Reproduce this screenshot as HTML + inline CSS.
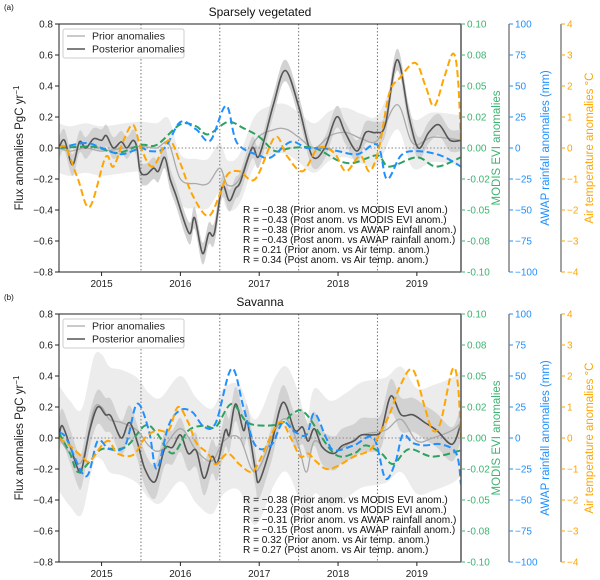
<!DOCTYPE html>
<html><head><meta charset="utf-8"><style>
body{margin:0;background:#fff;}
svg{display:block;font-family:"Liberation Sans","DejaVu Sans",sans-serif;}
</style></head><body>
<svg id="chart" width="600" height="580" viewBox="0 0 600 580" xmlns="http://www.w3.org/2000/svg"></svg>
<script>
// ---------- Panel (a) Sparsely vegetated ----------
const aPostT=[2014.46,2014.53,2014.63,2014.72,2014.8,2014.9,2015.0,2015.06,2015.15,2015.25,2015.32,2015.4,2015.45,2015.49,2015.57,2015.66,2015.72,2015.8,2015.87,2015.94,2016.11,2016.18,2016.28,2016.36,2016.43,2016.53,2016.62,2016.7,2016.76,2016.91,2017.0,2017.18,2017.33,2017.5,2017.67,2017.83,2017.98,2018.09,2018.24,2018.35,2018.48,2018.6,2018.75,2018.9,2019.02,2019.15,2019.28,2019.42,2019.56];
const aPostV=[0,0.05,-0.11,0.04,0.0,0.06,0.05,0.08,0.0,0.04,0.0,0.05,0,-0.15,-0.17,-0.13,-0.15,-0.06,-0.2,-0.3,-0.55,-0.45,-0.68,-0.55,-0.55,-0.25,-0.34,-0.26,-0.22,0.0,-0.05,0.28,0.5,0.27,-0.05,0.0,0.2,0.1,-0.02,0.1,0.1,0.15,0.57,0.2,0.0,0.1,0.15,0.05,0.05];
const aPriorT=[2014.46,2014.6,2014.8,2015.0,2015.3,2015.5,2015.7,2015.85,2016.0,2016.2,2016.35,2016.5,2016.6,2016.75,2016.95,2017.2,2017.35,2017.5,2017.7,2017.9,2018.1,2018.3,2018.5,2018.75,2018.95,2019.2,2019.56];
const aPriorV=[0,-0.02,0.0,-0.02,0.0,0.01,0.0,0.03,-0.2,-0.23,-0.23,-0.13,-0.24,-0.2,0.05,0.12,0.12,0.07,0.0,0.08,0.1,0.06,0.05,0.28,0.03,0.07,0.05];
const aPostUnc=0.07, aPriorUnc=0.16;
const aEviT=[2014.46,2014.9,2015.2,2015.5,2015.7,2016.0,2016.2,2016.35,2016.6,2016.8,2017.0,2017.2,2017.4,2017.7,2018.0,2018.2,2018.5,2018.65,2019.0,2019.25,2019.56];
const aEviV=[0,0.001,-0.004,0.0025,0.0025,0.019,0.0175,0.011,0.021,0.016,0.009,-0.0025,0.0,0.0,-0.01,-0.012,-0.006,-0.015,-0.0075,-0.015,-0.0075];
const aRainT=[2014.46,2014.8,2015.0,2015.25,2015.5,2015.6,2015.8,2016.0,2016.2,2016.38,2016.58,2016.72,2017.0,2017.15,2017.4,2017.6,2017.8,2018.0,2018.25,2018.5,2018.62,2018.8,2019.0,2019.3,2019.56];
const aRainV=[0,4,0,-5,0,-2.5,0,21,15,6,34,4,-6,-7.5,5,0,0,-2.5,-5,2.5,-25,-6,-2.5,-6,-15];
const aTempT=[2014.46,2014.55,2014.7,2014.85,2015.05,2015.15,2015.28,2015.4,2015.5,2015.65,2015.85,2016.0,2016.15,2016.35,2016.5,2016.6,2016.75,2016.95,2017.2,2017.35,2017.55,2017.75,2017.95,2018.1,2018.28,2018.4,2018.52,2018.65,2018.78,2018.98,2019.11,2019.22,2019.35,2019.46,2019.52,2019.56];
const aTempV=[0,0,-1,-1.9,-0.3,-0.6,0.25,0.75,0,-0.6,0.25,-0.5,-1.5,-2.2,-1.5,-0.85,-0.75,-1.0,0.35,-0.25,-0.75,0,-0.15,-0.75,-0.25,-0.75,0,1.77,2.25,2.75,2.0,1.35,2.3,3.05,2.3,0.15];
const aStats=["R = \u22120.38 (Prior anom. vs MODIS EVI anom.)","R = \u22120.43 (Post anom. vs MODIS EVI anom.)","R = \u22120.38 (Prior anom. vs AWAP rainfall anom.)","R = \u22120.43 (Post anom. vs AWAP rainfall anom.)","R = 0.21 (Prior anom. vs Air temp. anom.)","R = 0.34 (Post anom. vs Air temp.  anom.)"];

// ---------- Panel (b) Savanna ----------
const bPostT=[2014.46,2014.5,2014.6,2014.7,2014.75,2014.85,2014.95,2015.05,2015.12,2015.25,2015.35,2015.45,2015.55,2015.68,2015.8,2015.9,2016.0,2016.1,2016.2,2016.3,2016.4,2016.47,2016.57,2016.62,2016.7,2016.8,2016.85,2016.95,2017.0,2017.15,2017.3,2017.45,2017.55,2017.62,2017.7,2017.8,2017.95,2018.05,2018.2,2018.3,2018.45,2018.55,2018.67,2018.8,2018.95,2019.1,2019.25,2019.45,2019.56];
const bPostV=[0,0.08,-0.05,-0.2,-0.2,0.05,0.2,0.15,0.14,0.0,0.1,-0.02,-0.2,-0.28,-0.07,-0.06,0.02,-0.1,-0.08,-0.26,-0.12,-0.16,0.05,0.02,0.22,0.05,0.1,-0.2,-0.28,-0.05,0.23,0.05,0.07,-0.02,0.06,-0.06,-0.1,-0.05,-0.02,0.02,0.02,0.05,0.27,0.15,0.15,0.1,0.05,-0.04,0.1];
const bPriorT=[2014.46,2014.6,2014.75,2014.9,2015.0,2015.1,2015.25,2015.45,2015.6,2015.75,2016.0,2016.2,2016.4,2016.55,2016.75,2016.95,2017.2,2017.35,2017.5,2017.6,2017.7,2017.9,2018.1,2018.3,2018.6,2018.8,2019.0,2019.2,2019.45,2019.56];
const bPriorV=[0,-0.1,-0.15,0.18,0.2,0.12,0.1,0.05,-0.05,-0.08,0.06,-0.08,-0.15,-0.02,0.0,-0.22,0.05,0.12,-0.05,-0.22,-0.02,-0.1,-0.05,0.02,0.05,0.12,-0.02,0.0,0.05,0.1];
const bPostUnc=0.11, bPriorUnc=0.34;
const bEviT=[2014.46,2014.6,2014.7,2014.85,2015.0,2015.3,2015.55,2015.7,2015.9,2016.1,2016.3,2016.45,2016.65,2016.85,2017.1,2017.3,2017.45,2017.6,2017.95,2018.2,2018.35,2018.55,2018.7,2018.9,2019.2,2019.56];
const bEviV=[0.004,-0.0125,-0.0275,-0.019,-0.009,-0.0075,0.01,0.004,-0.0125,0.006,0.01,0.009,0.0275,0.0125,0.01,0.0125,0.021,0.019,-0.0125,-0.0125,-0.006,-0.0125,-0.021,-0.009,-0.015,-0.01];
const bRainT=[2014.46,2014.55,2014.8,2014.95,2015.1,2015.3,2015.45,2015.6,2015.7,2015.85,2016.0,2016.15,2016.3,2016.45,2016.65,2016.8,2016.95,2017.15,2017.3,2017.45,2017.6,2017.7,2017.85,2017.95,2018.2,2018.45,2018.6,2018.73,2018.82,2018.95,2019.1,2019.3,2019.5,2019.56];
const bRainV=[4,0,-31,-2.5,-9,-6,27.5,6,-25,10,22.5,21,9,12.5,56,25,-6,-6,12.5,5,2.5,20,0,-10,-6,0,-32.5,-19,2.5,-4,-6,-5,-12.5,-37.5];
const bTempT=[2014.46,2014.6,2014.75,2014.85,2015.0,2015.1,2015.2,2015.4,2015.55,2015.7,2015.85,2015.97,2016.1,2016.2,2016.35,2016.45,2016.6,2016.75,2016.9,2017.0,2017.25,2017.4,2017.52,2017.62,2017.72,2017.85,2018.0,2018.2,2018.4,2018.5,2018.65,2018.8,2018.95,2019.1,2019.2,2019.3,2019.45,2019.52,2019.56];
const bTempV=[0,-0.25,-0.6,-0.75,-0.25,-0.1,-0.5,-0.55,0,0.25,0.25,1.0,0.5,-0.15,-0.5,-0.85,-0.5,-0.85,-1.1,-0.75,0.5,0,-0.6,-0.5,-0.75,-1.0,-0.9,-0.6,-0.4,0,0.75,1.75,2.2,1.0,0.25,0.5,2.2,1.75,0];
const bStats=["R = \u22120.38 (Prior anom. vs MODIS EVI anom.)","R = \u22120.23 (Post anom. vs MODIS EVI anom.)","R = \u22120.31 (Prior anom. vs AWAP rainfall anom.)","R = \u22120.15 (Post anom. vs AWAP rainfall anom.)","R = 0.32 (Prior anom. vs Air temp. anom.)","R = 0.27 (Post anom. vs Air temp.  anom.)"];

const fluxTicks=[0.8,0.6,0.4,0.2,0.0,-0.2,-0.4,-0.6,-0.8];
const fluxTickLabels=["0.8","0.6","0.4","0.2","0.0","\u22120.2","\u22120.4","\u22120.6","\u22120.8"];
const eviTickLabels=["0.10","0.08","0.05","0.02","0.00","-0.02","-0.05","-0.08","-0.10"];
const rainTickLabels=["100","75","50","25","0","\u221225","\u221250","\u221275","\u2212100"];
const tempTickLabels=["4","3","2","1","0","\u22121","\u22122","\u22123","\u22124"];
const years=[2015,2016,2017,2018,2019];
const dividers=[2015.5,2016.5,2017.5,2018.5];

const NS="http://www.w3.org/2000/svg";
const svg=document.getElementById('chart');
const X0=59,X1=461,TMIN=2014.46,TMAX=2019.56;
const xs=t=>X0+(t-TMIN)/(TMAX-TMIN)*(X1-X0);
function mk(tag,attrs,parent){const e=document.createElementNS(NS,tag);for(const k in attrs)e.setAttribute(k,attrs[k]);(parent||svg).appendChild(e);return e;}
function smooth(pts){let d="M"+pts[0][0].toFixed(1)+","+pts[0][1].toFixed(1);
 for(let i=0;i<pts.length-1;i++){const p0=pts[Math.max(0,i-1)],p1=pts[i],p2=pts[i+1],p3=pts[Math.min(pts.length-1,i+2)];
  const c1=[p1[0]+(p2[0]-p0[0])/6,p1[1]+(p2[1]-p0[1])/6],c2=[p2[0]-(p3[0]-p1[0])/6,p2[1]-(p3[1]-p1[1])/6];
  d+="C"+c1[0].toFixed(1)+","+c1[1].toFixed(1)+" "+c2[0].toFixed(1)+","+c2[1].toFixed(1)+" "+p2[0].toFixed(1)+","+p2[1].toFixed(1);}
 return d;}
function bandPath(T,V,w,ys){const up=T.map((t,i)=>[xs(t),ys(V[i]+w)]);const lo=T.map((t,i)=>[xs(t),ys(V[i]-w)]).reverse();
 return smooth(up)+"L"+lo[0][0].toFixed(1)+","+lo[0][1].toFixed(1)+smooth(lo).slice(1).replace(/^[^C]*/,"")+"Z";}

function panel(top,id,label,title,D){
 const bot=top+248;
 const ys=v=>top+(0.8-v)/1.6*(bot-top);
 const yE=v=>top+(0.1-v)/0.2*(bot-top);
 const yR=v=>top+(100-v)/200*(bot-top);
 const yT=v=>top+(4-v)/8*(bot-top);
 const g=mk('g',{});
 
 
 const cp=mk('clipPath',{id:'clip'+id},g);mk('rect',{x:X0,y:top,width:X1-X0,height:bot-top},cp);
 const pl=mk('g',{'clip-path':'url(#clip'+id+')'},g);
 let e;
 e=mk('path',{d:bandPath(D.priorT,D.priorV,D.priorUnc,ys),fill:'#ececec',stroke:'none'},pl);
 
 e=mk('path',{d:bandPath(D.postT,D.postV,D.postUnc,ys),fill:'#d2d2d2',stroke:'none'},pl);
 
 e=mk('line',{x1:X0,x2:X1,y1:ys(0),y2:ys(0),stroke:'#888','stroke-dasharray':'1.5,2','stroke-width':1},pl);
 
 dividers.forEach(t=>{const l=mk('line',{x1:xs(t),x2:xs(t),y1:top,y2:bot,stroke:'#777','stroke-dasharray':'1.5,2','stroke-width':1},pl);
  });
 const line=(T,V,f,col,w,dash,name)=>{const p=mk('path',{d:smooth(T.map((t,i)=>[xs(t),f(V[i])])),fill:'none',stroke:col,'stroke-width':w},pl);
  if(dash)p.setAttribute('stroke-dasharray',dash);
  };
 line(D.priorT,D.priorV,ys,'#aaaaaa',1.3,null,'prior-anomalies-line');
 line(D.postT,D.postV,ys,'#555555',1.6,null,'posterior-anomalies-line');
 line(D.eviT,D.eviV,yE,'#2ca25f',2,'7,3.5','evi-anomalies-line');
 line(D.rainT,D.rainV,yR,'#1e90ff',2,'7,3.5','rainfall-anomalies-line');
 line(D.tempT,D.tempV,yT,'#ffa500',2,'7,3.5','temperature-anomalies-line');
 e=mk('rect',{x:X0,y:top,width:X1-X0,height:bot-top,fill:'none',stroke:'#222','stroke-width':1},g);
 
 mk('line',{x1:X1,x2:X1,y1:top,y2:bot,stroke:'#555','stroke-width':1.5},g);
 fluxTicks.forEach((v,i)=>{mk('line',{x1:X0-4,x2:X0,y1:ys(v),y2:ys(v),stroke:'#222'},g);
  const t=mk('text',{x:X0-6,y:ys(v)+3.5,'text-anchor':'end','font-size':10,fill:'#222'},g);t.textContent=fluxTickLabels[i];
  });
 years.forEach(y=>{mk('line',{x1:xs(y),x2:xs(y),y1:bot,y2:bot+4,stroke:'#222'},g);
  const t=mk('text',{x:xs(y),y:bot+15,'text-anchor':'middle','font-size':10,fill:'#222'},g);t.textContent=y;
  });
 const axes=[[X1,eviTickLabels,'#3cb371','evi-axis'],[509,rainTickLabels,'#1e90ff','rainfall-axis'],[561,tempTickLabels,'#ffa500','temperature-axis']];
 axes.forEach(([ax,labs,col,nm],k)=>{
  const a=mk('g',{},g);
  if(k>0)mk('line',{x1:ax,x2:ax,y1:top,y2:bot,stroke:'#444','stroke-width':1},a);
  labs.forEach((lb,i)=>{const y=top+i*(bot-top)/8;mk('line',{x1:ax,x2:ax+4,y1:y,y2:y,stroke:col},a);
   const t=mk('text',{x:ax+6,y:y+3.5,'font-size':10,fill:col},a);t.textContent=lb;});});
 const rl=(x,txt,col,nm)=>{const t=mk('text',{x:0,y:0,transform:`translate(${x},${(top+bot)/2}) rotate(-90)`,'text-anchor':'middle','font-size':11.5,fill:col},g);
  t.textContent=txt;return t;};
 const yl=mk('text',{x:0,y:0,transform:`translate(23,${(top+bot)/2}) rotate(-90)`,'text-anchor':'middle','font-size':11.5,fill:'#222'},g);
 yl.innerHTML='Flux anomalies PgC yr<tspan dy="-4" font-size="8">\u22121</tspan>';
 
 rl(500,'MODIS EVI anomalies','#3cb371','evi-axis-title');
 rl(549,'AWAP rainfall anomalies (mm)','#1e90ff','rainfall-axis-title');
 rl(593,'Air temperature anomalies \u00b0C','#ffa500','temperature-axis-title');
 let t=mk('text',{x:260,y:top-8,'text-anchor':'middle','font-size':12,fill:'#111'},g);t.textContent=title;
 
 t=mk('text',{x:4,y:top-14,'font-size':8,fill:'#111'},g);t.textContent=label;
 
 const lg=mk('g',{},g);
 mk('rect',{x:63,y:top+5,width:121,height:29,rx:2,fill:'#fff','fill-opacity':0.85,stroke:'#ccc'},lg);
 [['Prior anomalies','#aaaaaa',1.3],['Posterior anomalies','#555555',1.6]].forEach(([n,c,w],i)=>{
  const yy=top+12+i*13;const en=mk('g',{},lg);
  mk('line',{x1:67,x2:85,y1:yy,y2:yy,stroke:c,'stroke-width':w},en);
  const tt=mk('text',{x:92,y:yy+3.5,'font-size':10.5,fill:'#222'},en);tt.textContent=n;});
 D.stats.forEach((s,i)=>{const tt=mk('text',{x:243,y:top+189+i*10,'font-size':10.1,fill:'#111'},g);tt.textContent=s;
  });
}
panel(24,'a','(a)','Sparsely vegetated',{postT:aPostT,postV:aPostV,priorT:aPriorT,priorV:aPriorV,postUnc:aPostUnc,priorUnc:aPriorUnc,eviT:aEviT,eviV:aEviV,rainT:aRainT,rainV:aRainV,tempT:aTempT,tempV:aTempV,stats:aStats});
panel(314,'b','(b)','Savanna',{postT:bPostT,postV:bPostV,priorT:bPriorT,priorV:bPriorV,postUnc:bPostUnc,priorUnc:bPriorUnc,eviT:bEviT,eviV:bEviV,rainT:bRainT,rainV:bRainV,tempT:bTempT,tempV:bTempV,stats:bStats});
</script>
</body></html>
